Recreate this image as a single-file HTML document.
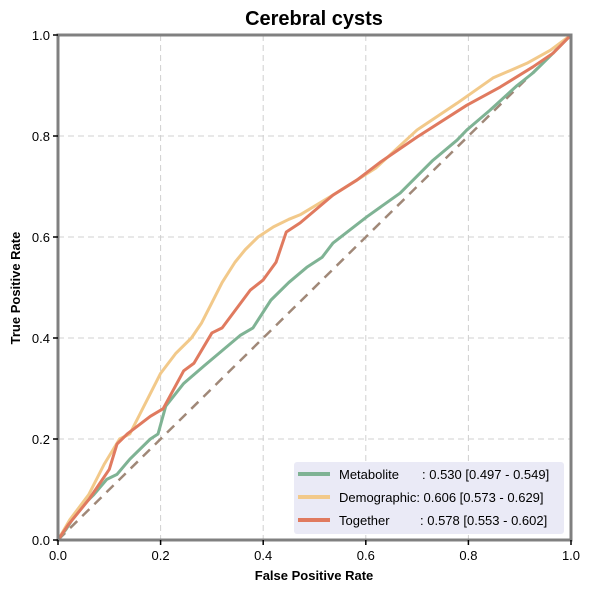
<!DOCTYPE html>
<html><head><meta charset="utf-8"><style>
body{margin:0;background:#fff;}
svg{display:block;font-family:"Liberation Sans",Arial,sans-serif;}
</style></head><body>
<svg id="chart" width="591" height="592">
<text x="314" y="25" text-anchor="middle" font-size="20" font-weight="bold">Cerebral cysts</text>
<g id="grid"></g>
<g id="series"></g>
<rect x="58" y="35" width="513" height="505" fill="none" stroke="#808080" stroke-width="3"/>
<g id="ticks"></g>
<text x="314" y="580" text-anchor="middle" font-size="13" font-weight="bold">False Positive Rate</text>
<text transform="translate(20,288) rotate(-90)" text-anchor="middle" font-size="13" font-weight="bold">True Positive Rate</text>
<g>
<rect x="294" y="462" width="270" height="72" rx="3" fill="#eaeaf6"/>
<g><line x1="298" y1="474" x2="330" y2="474" stroke="#7fb394" stroke-width="4"/><text x="339" y="479" font-size="13">Metabolite</text><text x="422" y="479" font-size="13">: 0.530 [0.497 - 0.549]</text></g>
<g><line x1="298" y1="497" x2="330" y2="497" stroke="#f2c98a" stroke-width="4"/><text x="339" y="502" font-size="13">Demographic: 0.606 [0.573 - 0.629]</text></g>
<g><line x1="298" y1="520" x2="330" y2="520" stroke="#e07a5f" stroke-width="4"/><text x="339" y="525" font-size="13">Together</text><text x="420" y="525" font-size="13">: 0.578 [0.553 - 0.602]</text></g>
</g>
</svg>
<script>
const ticks=[0,0.2,0.4,0.6,0.8,1.0];
const tickLabels=["0.0","0.2","0.4","0.6","0.8","1.0"];
const metFpr=[0,0.015,0.04,0.07,0.095,0.115,0.14,0.18,0.195,0.21,0.245,0.285,0.32,0.355,0.38,0.415,0.45,0.485,0.515,0.536,0.602,0.667,0.731,0.778,0.797,0.842,0.895,0.926,0.965,1];
const metTpr=[0,0.02,0.06,0.09,0.12,0.13,0.16,0.2,0.21,0.265,0.31,0.345,0.375,0.405,0.42,0.475,0.51,0.54,0.56,0.588,0.64,0.687,0.752,0.792,0.812,0.851,0.90,0.925,0.964,1];
const demFpr=[0,0.023,0.06,0.09,0.12,0.14,0.16,0.18,0.2,0.23,0.26,0.28,0.30,0.32,0.345,0.365,0.39,0.42,0.45,0.472,0.536,0.583,0.62,0.70,0.778,0.848,0.914,0.96,1];
const demTpr=[0,0.04,0.09,0.15,0.2,0.21,0.25,0.29,0.33,0.37,0.40,0.43,0.47,0.51,0.55,0.575,0.60,0.62,0.635,0.644,0.683,0.713,0.737,0.812,0.865,0.915,0.944,0.97,1];
const togFpr=[0,0.02,0.06,0.1,0.115,0.135,0.18,0.205,0.245,0.265,0.30,0.32,0.375,0.40,0.425,0.445,0.472,0.536,0.583,0.628,0.70,0.797,0.862,0.926,0.965,1];
const togTpr=[0,0.03,0.08,0.14,0.19,0.21,0.245,0.26,0.335,0.35,0.41,0.42,0.495,0.515,0.55,0.61,0.628,0.683,0.713,0.748,0.798,0.861,0.897,0.937,0.964,1];
const NS="http://www.w3.org/2000/svg";
const sx=v=>58+v*513, sy=v=>540-v*505;
function mk(tag,attrs,parent){const e=document.createElementNS(NS,tag);for(const k in attrs)e.setAttribute(k,attrs[k]);parent.appendChild(e);return e;}
const grid=document.getElementById('grid'),tk=document.getElementById('ticks'),ser=document.getElementById('series');
ticks.forEach((t,i)=>{
  if(t>0&&t<1){
    const gx=mk('line',{x1:sx(t),x2:sx(t),y1:35,y2:540,stroke:'#d0d0d0','stroke-dasharray':'6,4'},grid);
    
    
    const gy=mk('line',{x1:58,x2:571,y1:sy(t),y2:sy(t),stroke:'#d0d0d0','stroke-dasharray':'6,4'},grid);
    
    
  }
  mk('line',{x1:sx(t),x2:sx(t),y1:540,y2:545,stroke:'#000','stroke-width':1.5},tk);
  const xl=mk('text',{x:sx(t),y:560,'text-anchor':'middle','font-size':13},tk);
  xl.textContent=tickLabels[i];
  
  
  mk('line',{x1:53,x2:58,y1:sy(t),y2:sy(t),stroke:'#000','stroke-width':1.5},tk);
  const yl=mk('text',{x:50,y:sy(t)+5,'text-anchor':'end','font-size':13},tk);
  yl.textContent=tickLabels[i];
  
  
});
const diag=mk('line',{x1:sx(0),y1:sy(0),x2:sx(1),y2:sy(1),stroke:'#a08878','stroke-width':2.5,'stroke-dasharray':'10,7'},ser);


function curve(xs,ys,color,name){
  const p=mk('polyline',{points:xs.map((x,i)=>sx(x)+','+sy(ys[i])).join(' '),fill:'none',stroke:color,'stroke-width':3,'stroke-linejoin':'round'},ser);
  
  
}
curve(metFpr,metTpr,'#7fb394','metabolite-roc-curve');
curve(demFpr,demTpr,'#f2c98a','demographic-roc-curve');
curve(togFpr,togTpr,'#e07a5f','together-roc-curve');
</script>
</body></html>
